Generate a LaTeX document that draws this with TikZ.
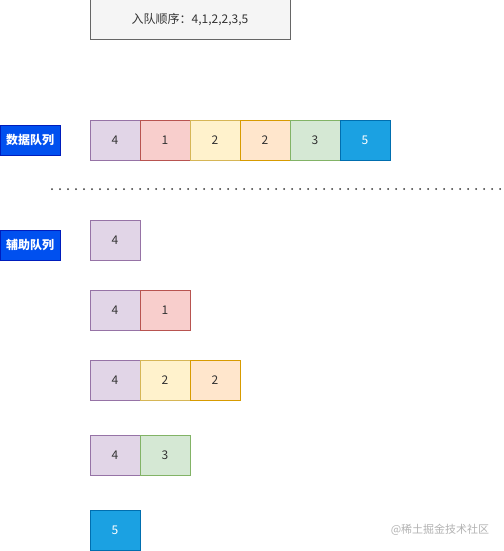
\documentclass[tikz,border=0pt]{standalone}
\usepackage{fontspec}
\setmainfont{Noto Sans CJK SC}
\definecolor{txt}{HTML}{333333}
\definecolor{ordfill}{HTML}{F5F5F5}
\definecolor{ordline}{HTML}{666666}
\definecolor{tagfill}{HTML}{0050EF}
\definecolor{tagline}{HTML}{001DBC}
\tikzset{
  cell/.style={draw,line width=1pt,minimum width=50pt,minimum height=40pt,
    inner sep=0pt,outer sep=0pt,text=txt},
  purplecell/.style={cell,fill={rgb,255:red,225;green,213;blue,231},draw={rgb,255:red,150;green,115;blue,166}},
  redcell/.style={cell,fill={rgb,255:red,248;green,206;blue,204},draw={rgb,255:red,184;green,84;blue,80}},
  yellowcell/.style={cell,fill={rgb,255:red,255;green,242;blue,204},draw={rgb,255:red,214;green,182;blue,86}},
  orangecell/.style={cell,fill={rgb,255:red,255;green,230;blue,204},draw={rgb,255:red,215;green,155;blue,0}},
  greencell/.style={cell,fill={rgb,255:red,213;green,232;blue,212},draw={rgb,255:red,130;green,179;blue,102}},
  bluecell/.style={cell,fill={rgb,255:red,27;green,161;blue,226},draw={rgb,255:red,0;green,110;blue,175},text=white},
  tag/.style={draw=tagline,fill=tagfill,line width=1pt,minimum width=60pt,minimum height=30pt,
    inner sep=0pt,text=white,font=\fontsize{12}{14}\selectfont\bfseries}
}
\begin{document}
\begin{tikzpicture}[x=1pt,y=-1pt,font=\fontsize{12}{14}\selectfont]
  \useasboundingbox (0,0) rectangle (503,551);
  % enqueue order
  \node[draw=ordline,fill=ordfill,line width=1pt,minimum width=200pt,minimum height=40pt,text=txt]
    (order) at (190,20) {入队顺序：4,1,2,2,3,5};
  % data queue
  \node[tag] (datatag) at (30,140) {数据队列};
  \node[purplecell] (d1) at (115,140) {4};
  \node[redcell]    (d2) at (165,140) {1};
  \node[yellowcell] (d3) at (215,140) {2};
  \node[orangecell] (d4) at (265,140) {2};
  \node[greencell]  (d5) at (315,140) {3};
  \node[bluecell]   (d6) at (365,140) {5};
  % separator
  \coordinate (sepl) at (52,189);
  \coordinate (sepr) at (503,189);
  \draw[txt,line width=2pt,line cap=round,dash pattern=on 0pt off 8pt] (sepl) -- (sepr);
  % helper queue
  \node[tag] (auxtag) at (30,245) {辅助队列};
  \node[purplecell] (a1) at (115,240) {4};
  \node[purplecell] (b1) at (115,310) {4};
  \node[redcell]    (b2) at (165,310) {1};
  \node[purplecell] (c1) at (115,380) {4};
  \node[yellowcell] (c2) at (165,380) {2};
  \node[orangecell] (c3) at (215,380) {2};
  \node[purplecell] (e1) at (115,455) {4};
  \node[greencell]  (e2) at (165,455) {3};
  \node[bluecell]   (f1) at (115,530) {5};
  % watermark
  \node[text=black!30,font=\fontsize{11}{13}\selectfont] (mark) at (440,530) {@稀土掘金技术社区};
\end{tikzpicture}
\end{document}
